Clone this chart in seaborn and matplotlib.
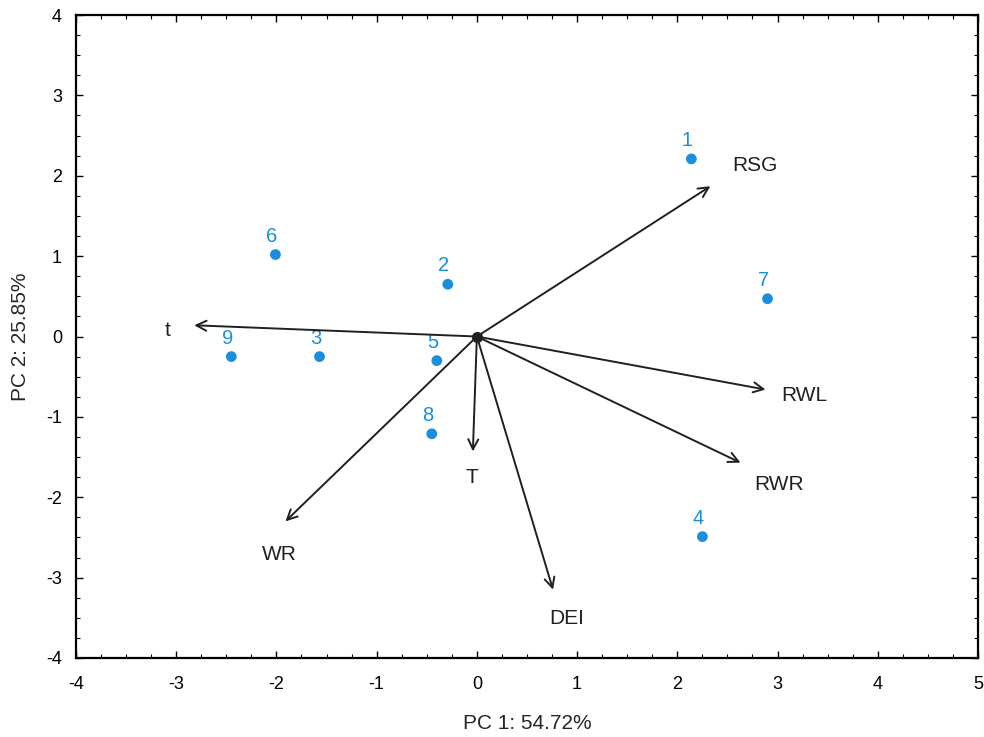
import numpy as np
import pandas as pd
import seaborn as sns
import matplotlib.pyplot as plt
from matplotlib.ticker import MultipleLocator

# sample scores (PC1, PC2)
sample_ids = ['1', '2', '3', '4', '5', '6', '7', '8', '9']
pc1_scores = [2.14, -0.29, -1.57, 2.25, -0.40, -2.01, 2.90, -0.45, -2.45]
pc2_scores = [2.21, 0.65, -0.25, -2.49, -0.30, 1.02, 0.47, -1.21, -0.25]

# variable loadings (arrow tips) and label positions
variables = ['RSG', 't', 'RWL', 'RWR', 'T', 'DEI', 'WR']
load_pc1 = [2.33, -2.82, 2.88, 2.63, -0.04, 0.76, -1.91]
load_pc2 = [1.87, 0.14, -0.66, -1.57, -1.43, -3.15, -2.30]
label_pc1 = [2.77, -3.09, 3.27, 3.02, -0.05, 0.90, -1.97]
label_pc2 = [2.13, 0.08, -0.73, -1.84, -1.76, -3.51, -2.71]

scores = pd.DataFrame({'sample': sample_ids, 'PC1': pc1_scores, 'PC2': pc2_scores})

sns.set_theme(style='ticks')
plt.rcParams['font.family'] = ['Liberation Sans', 'DejaVu Sans']
plt.rcParams['axes.unicode_minus'] = False

fig = plt.figure(figsize=(9.84, 7.37), dpi=100)
ax = fig.add_axes([0.0772, 0.1072, 0.9167, 0.8724])

blue = '#1a8fdc'
ink = '#231f20'
sns.scatterplot(data=scores, x='PC1', y='PC2', ax=ax, color=blue, s=60,
                edgecolor='none', zorder=3)
for _, r in scores.iterrows():
    ax.text(r['PC1'] - 0.04, r['PC2'] + 0.11, r['sample'], color=blue,
            fontsize=14.5, ha='center', va='bottom')

for name, x, y, lx, ly in zip(variables, load_pc1, load_pc2, label_pc1, label_pc2):
    ax.annotate('', xy=(x, y), xytext=(0, 0),
                arrowprops=dict(arrowstyle='->', color=ink, lw=1.4,
                                mutation_scale=18, shrinkA=0, shrinkB=0))
    ax.text(lx, ly, name, fontsize=15, ha='center', va='center', color=ink)

ax.plot([0], [0], 'o', color=ink, ms=7, zorder=4)

ax.set_xlim(-4, 5)
ax.set_ylim(-4, 4)
ax.xaxis.set_major_locator(MultipleLocator(1))
ax.xaxis.set_minor_locator(MultipleLocator(0.25))
ax.yaxis.set_major_locator(MultipleLocator(1))
ax.yaxis.set_minor_locator(MultipleLocator(0.25))
ax.tick_params(which='both', direction='in', top=True, right=True, colors='black',
               labelsize=13)
ax.tick_params(which='major', length=5, width=1)
ax.tick_params(which='minor', length=3, width=0.8)
ax.tick_params(axis='x', which='major', pad=13)
ax.tick_params(axis='y', which='major', pad=10)
for s in ax.spines.values():
    s.set_linewidth(1.6)
    s.set_color('black')

ax.set_xlabel('PC 1: 54.72%', fontsize=15, labelpad=15)
ax.set_ylabel('PC 2: 25.85%', fontsize=15, labelpad=12)

fig.savefig('out.png', dpi=100)
